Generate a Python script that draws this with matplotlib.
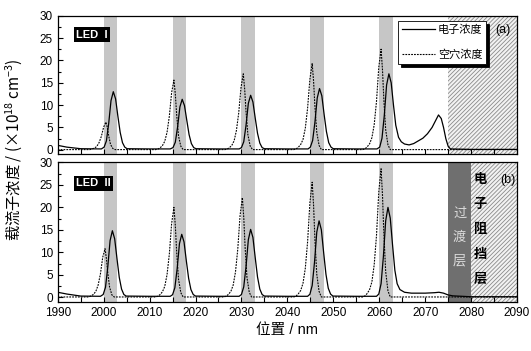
import matplotlib
matplotlib.use("Agg")
import matplotlib.pyplot as plt
from matplotlib.ticker import MultipleLocator

plt.rcParams["font.family"] = ["Liberation Sans", "Noto Sans CJK SC", "DejaVu Sans"]
plt.rcParams["mathtext.fontset"] = "custom"
plt.rcParams["mathtext.rm"] = "Noto Sans CJK SC"
plt.rcParams["mathtext.it"] = "Noto Sans CJK SC"
plt.rcParams["hatch.linewidth"] = 0.6

CJK = ["Noto Sans CJK SC", "DejaVu Sans"]

# 量子阱位置 (nm)
WELL_STARTS = [2000, 2015, 2030, 2045, 2060]
WELL_WIDTH = 3
EBL_I = (2075, 2090)
TRANS_II = (2075, 2080)
EBL_II = (2080, 2090)

# LED I 电子浓度
led1_e_x = [1990, 1992, 1995, 1999.5,
            2000.1, 2000.6, 2001.1, 2001.6, 2002.1, 2002.6, 2003.1, 2003.6, 2004.1, 2004.6, 2005.1,
            2010, 2014.5,
            2015.1, 2015.6, 2016.1, 2016.6, 2017.1, 2017.6, 2018.1, 2018.6, 2019.1, 2019.6, 2020.1,
            2025, 2029.5,
            2030.0, 2030.5, 2031.0, 2031.5, 2032.0, 2032.5, 2033.0, 2033.5, 2034.0, 2034.5, 2035.0,
            2040, 2044.5,
            2045.0, 2045.5, 2046.0, 2046.5, 2047.0, 2047.5, 2048.0, 2048.5, 2049.0, 2049.5, 2050.0,
            2055, 2059.5,
            2060.1, 2060.6, 2061.1, 2061.6, 2062.1, 2062.6, 2063.1, 2063.6, 2064.2, 2064.8, 2065.5,
            2066.5, 2067.5, 2068.5, 2069.5, 2070.5, 2071.5, 2072.3, 2072.9, 2073.5, 2074.0, 2074.5,
            2075.0, 2075.5, 2080, 2090]
led1_e_y = [1.0, 0.6, 0.25, 0.2,
            0.6, 2.0, 5.9, 11.0, 13.0, 11.4, 7.5, 3.9, 1.6, 0.6, 0.25,
            0.2, 0.2,
            0.5, 1.7, 5.1, 9.6, 11.3, 9.9, 6.6, 3.4, 1.4, 0.5, 0.25,
            0.2, 0.2,
            0.5, 1.8, 5.5, 10.4, 12.2, 10.7, 7.1, 3.7, 1.5, 0.5, 0.25,
            0.2, 0.2,
            0.6, 2.1, 6.2, 11.6, 13.7, 12.1, 7.9, 4.1, 1.6, 0.6, 0.25,
            0.2, 0.2,
            0.6, 2.6, 7.7, 14.5, 17.0, 15.0, 10.0, 5.5, 2.8, 1.8, 1.3,
            1.1, 1.4, 2.0, 2.6, 3.6, 5.0, 6.6, 7.8, 7.0, 5.0, 2.5,
            0.8, 0.2, 0.1, 0.1]

# LED I 空穴浓度
led1_h_x = [1990, 1997,
            1997.5, 1998.0, 1998.5, 1999.0, 1999.5, 2000.0, 2000.5, 2000.8, 2001.1, 2001.5, 2002.0, 2002.5,
            2011.3,
            2011.8, 2012.3, 2012.8, 2013.3, 2013.8, 2014.3, 2014.8, 2015.3, 2015.6, 2015.9, 2016.3, 2016.8, 2017.3,
            2026.4,
            2026.9, 2027.4, 2027.9, 2028.4, 2028.9, 2029.4, 2029.9, 2030.4, 2030.7, 2031.0, 2031.4, 2031.9, 2032.4,
            2041.4,
            2041.9, 2042.4, 2042.9, 2043.4, 2043.9, 2044.4, 2044.9, 2045.4, 2045.7, 2046.0, 2046.4, 2046.9, 2047.4,
            2056.4,
            2056.9, 2057.4, 2057.9, 2058.4, 2058.9, 2059.4, 2059.9, 2060.4, 2060.7, 2061.0, 2061.4, 2061.9, 2062.4,
            2090]
led1_h_y = [0.05, 0.05,
            0.2, 0.4, 0.75, 1.6, 3.0, 5.1, 6.2, 5.0, 3.1, 1.2, 0.3, 0.05,
            0.05,
            0.15, 0.45, 0.95, 1.9, 3.9, 7.5, 12.8, 15.6, 12.5, 7.8, 3.1, 0.8, 0.05,
            0.05,
            0.17, 0.5, 1.0, 2.0, 4.3, 8.2, 13.9, 17.0, 13.6, 8.5, 3.4, 0.85, 0.05,
            0.05,
            0.2, 0.6, 1.2, 2.3, 4.8, 9.3, 15.8, 19.3, 15.4, 9.7, 3.9, 1.0, 0.05,
            0.05,
            0.22, 0.7, 1.35, 2.7, 5.6, 10.8, 18.5, 22.5, 18.0, 11.3, 4.5, 1.1, 0.05,
            0.05]

# LED II 电子浓度
led2_e_x = [1990, 1992, 1995, 1999.3,
            1999.9, 2000.4, 2000.9, 2001.4, 2001.9, 2002.4, 2002.9, 2003.4, 2003.9, 2004.4, 2004.9,
            2010, 2014.5,
            2015.0, 2015.5, 2016.0, 2016.5, 2017.0, 2017.5, 2018.0, 2018.5, 2019.0, 2019.5, 2020.0,
            2025, 2029.5,
            2030.0, 2030.5, 2031.0, 2031.5, 2032.0, 2032.5, 2033.0, 2033.5, 2034.0, 2034.5, 2035.0,
            2040, 2044.4,
            2044.9, 2045.4, 2045.9, 2046.4, 2046.9, 2047.4, 2047.9, 2048.4, 2048.9, 2049.4, 2049.9,
            2055, 2059.4,
            2059.9, 2060.4, 2060.9, 2061.4, 2061.9, 2062.4, 2062.9, 2063.4, 2063.9, 2064.5, 2065.5,
            2067, 2070, 2072, 2073, 2074, 2075, 2076, 2080, 2090]
led2_e_y = [1.1, 0.7, 0.25, 0.2,
            0.6, 2.2, 6.7, 12.6, 14.8, 13.0, 8.6, 4.4, 1.8, 0.6, 0.25,
            0.2, 0.2,
            0.55, 2.1, 6.3, 11.9, 14.0, 12.3, 8.1, 4.2, 1.7, 0.6, 0.25,
            0.2, 0.2,
            0.6, 2.3, 6.8, 12.8, 15.1, 13.3, 8.8, 4.5, 1.8, 0.6, 0.25,
            0.2, 0.2,
            0.65, 2.6, 7.7, 14.5, 17.0, 15.0, 9.9, 5.1, 2.0, 0.7, 0.25,
            0.2, 0.2,
            0.7, 3.0, 9.0, 17.0, 20.0, 17.6, 11.6, 6.0, 3.0, 1.7, 1.1,
            0.9, 0.9, 1.0, 1.1, 0.9, 0.5, 0.3, 0.1, 0.1]

# LED II 空穴浓度
led2_h_x = [1990, 1996.8,
            1997.3, 1997.8, 1998.3, 1998.8, 1999.3, 1999.8, 2000.3, 2000.6, 2000.9, 2001.3, 2001.8, 2002.3,
            2011.3,
            2011.8, 2012.3, 2012.8, 2013.3, 2013.8, 2014.3, 2014.8, 2015.3, 2015.6, 2015.9, 2016.3, 2016.8, 2017.3,
            2026.2,
            2026.7, 2027.2, 2027.7, 2028.2, 2028.7, 2029.2, 2029.7, 2030.2, 2030.5, 2030.8, 2031.2, 2031.7, 2032.2,
            2041.4,
            2041.9, 2042.4, 2042.9, 2043.4, 2043.9, 2044.4, 2044.9, 2045.4, 2045.7, 2046.0, 2046.4, 2046.9, 2047.4,
            2056.4,
            2056.9, 2057.4, 2057.9, 2058.4, 2058.9, 2059.4, 2059.9, 2060.4, 2060.7, 2061.0, 2061.4, 2061.9, 2062.4,
            2090]
led2_h_y = [0.05, 0.05,
            0.3, 0.65, 1.3, 2.7, 5.2, 8.9, 10.8, 8.6, 5.4, 2.2, 0.5, 0.05,
            0.05,
            0.2, 0.6, 1.2, 2.4, 5.0, 9.6, 16.4, 20.0, 16.0, 10.0, 4.0, 1.0, 0.05,
            0.05,
            0.22, 0.67, 1.3, 2.7, 5.6, 10.7, 18.2, 22.2, 17.8, 11.1, 4.4, 1.1, 0.05,
            0.05,
            0.26, 0.77, 1.5, 3.1, 6.4, 12.3, 21.0, 25.6, 20.5, 12.8, 5.1, 1.3, 0.05,
            0.05,
            0.29, 0.86, 1.7, 3.4, 7.2, 13.7, 23.5, 28.6, 22.9, 14.3, 5.7, 1.4, 0.05,
            0.05]


def style_axes(ax, show_xlabels):
    ax.set_xlim(1990, 2090)
    ax.set_ylim(-1, 30)
    ax.xaxis.set_major_locator(MultipleLocator(10))
    ax.xaxis.set_minor_locator(MultipleLocator(5))
    ax.yaxis.set_major_locator(MultipleLocator(5))
    ax.yaxis.set_minor_locator(MultipleLocator(2.5))
    ax.tick_params(which="both", direction="in", labelsize=8.5, width=0.8)
    ax.tick_params(which="major", length=3.5)
    ax.tick_params(which="minor", length=2.2)
    ax.tick_params(axis="x", which="minor", length=3.5)
    if not show_xlabels:
        ax.tick_params(axis="x", labelbottom=False)
    for spine in ax.spines.values():
        spine.set_linewidth(0.9)


def draw_wells(ax):
    for start in WELL_STARTS:
        ax.axvspan(start, start + WELL_WIDTH, color="#c6c6c6", lw=0, zorder=0)


def draw_ebl(ax, span):
    ax.axvspan(*span, facecolor="#f2f2f2", edgecolor="#8a8a8a", hatch="////////", lw=0, zorder=0)


fig = plt.figure(figsize=(5.31, 3.51), dpi=100)
ax1 = fig.add_axes([0.1087, 0.5604, 0.865, 0.3949])
ax2 = fig.add_axes([0.1087, 0.1405, 0.865, 0.3966])

# (a) LED I
draw_wells(ax1)
draw_ebl(ax1, EBL_I)
ax1.plot(led1_e_x, led1_e_y, color="black", lw=0.9, label="电子浓度", zorder=3)
ax1.plot(led1_h_x, led1_h_y, color="black", lw=0.8, ls=(0, (1.6, 1.0)), label="空穴浓度", zorder=3)
style_axes(ax1, False)
leg = ax1.legend(loc="upper left", bbox_to_anchor=(0.741, 0.962), prop={"family": CJK, "size": 8},
                 handlelength=3.0, handletextpad=0.25, borderpad=0.35, labelspacing=1.3,
                 borderaxespad=0, fancybox=False, edgecolor="black", framealpha=1,
                 shadow={"color": "black", "alpha": 1})
leg.get_frame().set_linewidth(0.6)
leg.set_zorder(5)
ax1.text(0.04, 0.864, "LED  I", transform=ax1.transAxes, color="white", fontsize=8,
         weight="bold", va="center", bbox=dict(facecolor="black", edgecolor="none", pad=1.6))
ax1.text(0.985, 0.897, "(a)", transform=ax1.transAxes, ha="right", va="center", fontsize=9)

# (b) LED II
draw_wells(ax2)
ax2.axvspan(*TRANS_II, color="#6f6f6f", lw=0, zorder=0)
draw_ebl(ax2, EBL_II)
ax2.plot(led2_e_x, led2_e_y, color="black", lw=0.9, zorder=3)
ax2.plot(led2_h_x, led2_h_y, color="black", lw=0.8, ls=(0, (1.6, 1.0)), zorder=3)
style_axes(ax2, True)
ax2.text(0.04, 0.849, "LED  II", transform=ax2.transAxes, color="white", fontsize=8,
         weight="bold", va="center", bbox=dict(facecolor="black", edgecolor="none", pad=1.6))
ax2.text(0.996, 0.874, "(b)", transform=ax2.transAxes, ha="right", va="center", fontsize=9)
ax2.text(2077.5, 13.4, "过\n渡\n层", ha="center", va="center", color="#dcdcdc",
         fontsize=9.5, family=CJK, linespacing=2.1, zorder=4)
ax2.text(2082.0, 15.1, "电\n子\n阻\n挡\n层", ha="center", va="center", color="black",
         fontsize=9.5, family=CJK, weight="bold", linespacing=2.0, zorder=4)

ax2.set_xlabel("位置 / nm", fontsize=10.5, labelpad=3)
fig.text(0.028, 0.575, r"载流子浓度 / (×10$^{18}$ cm$^{-3}$)", rotation=90,
         ha="center", va="center", fontsize=11, family=CJK)

fig.savefig("out.png", dpi=100)
